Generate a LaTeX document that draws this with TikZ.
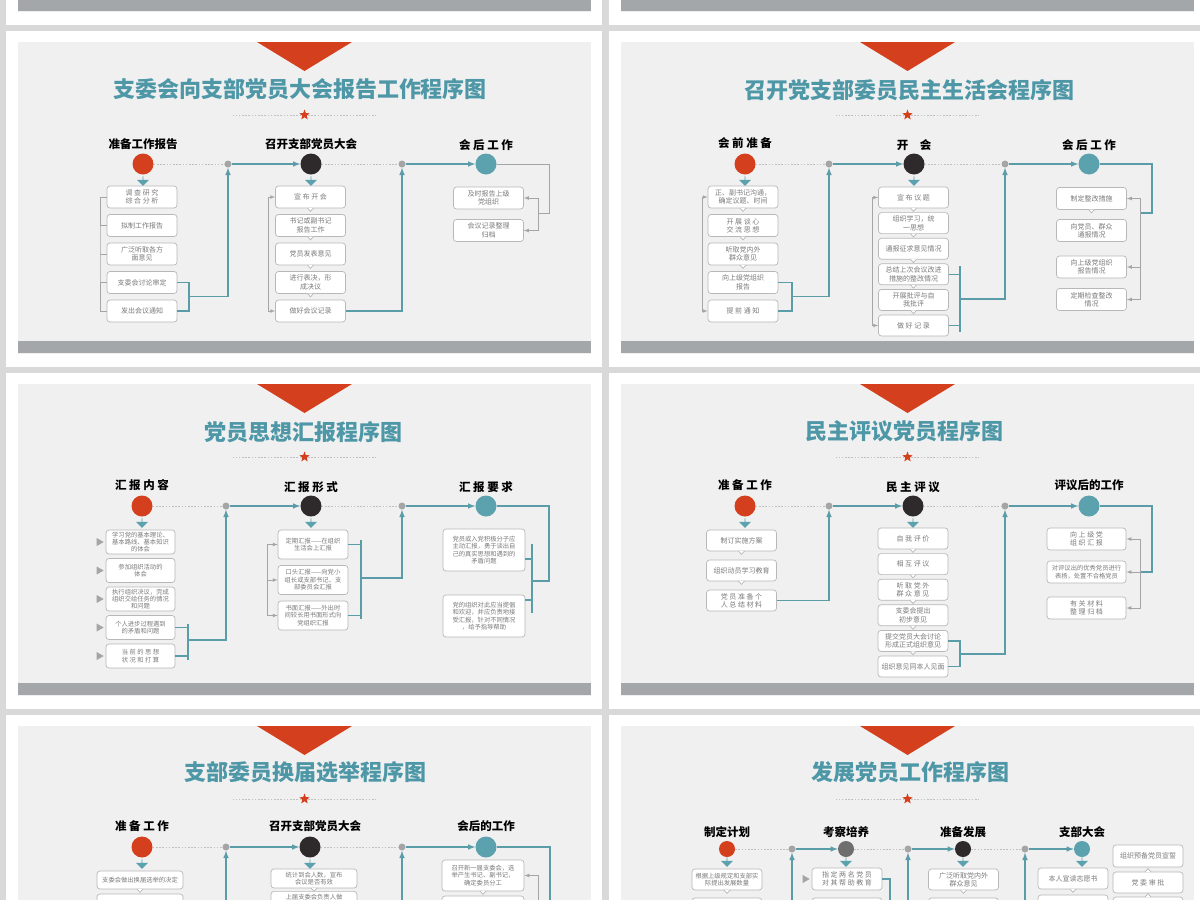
\documentclass[tikz,border=0pt]{standalone}
\usepackage{fontspec}
\setmainfont{Noto Sans CJK SC}
\usetikzlibrary{shapes.geometric,shapes.arrows,positioning}

\definecolor{pagegray}{HTML}{D9D9D9}
\definecolor{slidebg}{HTML}{F0F0F0}
\definecolor{barcol}{HTML}{A3A7AA}
\definecolor{partyred}{HTML}{D4401D}
\definecolor{darkdot}{HTML}{2E292A}
\definecolor{midgray}{HTML}{6E6E6E}
\definecolor{tealdot}{HTML}{5CA1AE}
\definecolor{tealline}{HTML}{5B9CA9}
\definecolor{titleteal}{HTML}{4D97A7}
\definecolor{jointgray}{HTML}{A5A5A5}
\definecolor{boxline}{HTML}{B8B8B8}
\definecolor{boxtext}{HTML}{7A7A7A}

\newcommand\titlefont{\fontsize{22}{24}\selectfont\bfseries}
\newcommand\headfont{\fontsize{11.5}{13}\selectfont\bfseries}
\newcommand\boxfont{\fontsize{7}{8.3}\selectfont}
\newcommand\smallboxfont{\fontsize{6.3}{7.4}\selectfont}
\newcommand\notchdown[1]{\filldraw[draw=boxline, fill=white, line width=0.7pt] ([xshift=-3pt,yshift=0.35pt]#1.south) -- ([yshift=-3pt]#1.south) -- ([xshift=3pt,yshift=0.35pt]#1.south);}
\newcommand\notchup[1]{\filldraw[draw=boxline, fill=white, line width=0.7pt] ([xshift=-3pt,yshift=-0.35pt]#1.north) -- ([yshift=3pt]#1.north) -- ([xshift=3pt,yshift=-0.35pt]#1.north);}

\begin{document}
\begin{tikzpicture}[x=1pt, y=-1pt,
        box/.style={rectangle, rounded corners=3pt, draw=boxline, fill=white, line width=0.7pt, minimum width=70pt, minimum height=22pt, inner sep=1pt, align=center, font=\boxfont, text=boxtext},
        small/.style={font=\smallboxfont},
        head/.style={font=\headfont, text=black},
        title/.style={font=\titlefont, text=titleteal},
        stage/.style={circle, minimum size=21pt, inner sep=0pt},
        joint/.style={circle, fill=jointgray, minimum size=7pt, inner sep=0pt},
        drop/.style={single arrow, shape border rotate=270, fill=tealdot, minimum height=9.5pt, minimum width=12pt, single arrow head extend=2.5pt, inner sep=0pt},
        play/.style={isosceles triangle, isosceles triangle stretches, fill=jointgray, minimum height=7pt, minimum width=8pt, inner sep=0pt},
        redstar/.style={star, star points=5, star point ratio=2.4, fill=partyred, minimum size=11pt, inner sep=0pt},
        arrow/.style={->, >=latex, draw=tealline, line width=1.5pt},
        link/.style={draw=tealline, line width=1.5pt},
        gline/.style={draw=jointgray, line width=0.7pt},
        garrow/.style={->, >=latex, draw=jointgray, line width=0.7pt},
        dots/.style={draw=jointgray!70, line width=0.8pt, dash pattern=on 1.6pt off 1.6pt}
    ]
    \useasboundingbox (0,0) rectangle (1200,900);
    \clip (0,0) rectangle (1200,900);
    \fill[pagegray] (0,0) rectangle (1200,900);

    % slide frames
    \foreach \fx/\fy/\n in {6/-311/0, 609/-311/1, 6/31/2, 609/31/3, 6/373/4, 609/373/5, 6/715/6, 609/715/7} {
        \fill[white] (\fx,\fy) rectangle +(596,336);
        \fill[slidebg] (\fx+12,\fy+11) rectangle +(573,312);
        \fill[barcol] (\fx+12,\fy+310) rectangle +(573,12);
        \fill[partyred] (\fx+251,\fy+11) -- (\fx+346,\fy+11) -- (\fx+298.5,\fy+40) -- cycle;
        \node[redstar] (star\n) at (\fx+298.5,\fy+84) {};
        \draw[dots] (star\n.west) -- ++(-68,0);
        \draw[dots] (star\n.east) -- ++(68,0);
    }

    % slide A
    \node[title] (titleA) at (300,89) {支委会向支部党员大会报告工作程序图};
    \node[stage, fill=partyred] (ac1) at (143,164) {};
    \node[stage, fill=darkdot] (ac2) at (311,164) {};
    \node[stage, fill=tealdot] (ac3) at (486,164) {};
    \node[joint] (ad1) at (228,164) {};
    \node[joint] (ad2) at (402,164) {};
    \node[head, above of=ac1, node distance=20pt] (ah1) {准备工作报告};
    \node[head, above of=ac2, node distance=20pt] (ah2) {召开支部党员大会};
    \node[head, above of=ac3, node distance=19pt] (ah3) {会 后 工 作};
    \node[drop, below of=ac1, node distance=17pt] (ap1) {};
    \node[drop, below of=ac2, node distance=17pt] (ap2) {};

    \node[box] (a11) at (142,197) {调 查 研 究\\综 合 分 析};
    \node[box, below of=a11, node distance=28.5pt] (a12) {拟制工作报告};
    \node[box, below of=a12, node distance=28.5pt] (a13) {广泛听取各方\\面意见};
    \node[box, below of=a13, node distance=28.5pt] (a14) {支委会讨论审定};
    \node[box, below of=a14, node distance=28.5pt] (a15) {发出会议通知};

    \node[box] (a21) at (310.5,197) {宣 布 开 会};
    \node[box, below of=a21, node distance=28.5pt] (a22) {书记或副书记\\报告工作};
    \node[box, below of=a22, node distance=28.5pt] (a23) {党员发表意见};
    \node[box, below of=a23, node distance=28.5pt] (a24) {进行表决，形\\成决议};
    \node[box, below of=a24, node distance=28.5pt] (a25) {做好会议记录};

    \node[box] (a31) at (488.5,198) {及时报告上级\\党组织};
    \node[box, below of=a31, node distance=32.5pt] (a32) {会议记录整理\\归档};

    \draw[dots] (ac1) -- (ad1);
    \draw[arrow] (ad1) -- (ac2);
    \draw[dots] (ac2) -- (ad2);
    \draw[arrow] (ad2) -- (ac3);
    \coordinate (aj1) at (189,296.5);
    \draw[link] (a14.east) -| (aj1) |- (a15.east);
    \draw[arrow] (aj1) -| (ad1);
    \draw[arrow] (a25.east) -| (ad2);
    \coordinate (ak3) at (549,213);
    \coordinate (aj3) at (538,213);
    \draw[gline] (ac3) -| (ak3) -- (aj3);
    \draw[garrow] (aj3) |- (a31);
    \draw[garrow] (aj3) |- (a32);
    \coordinate (al1) at (100,254);
    \draw[gline] (a11.west) -| (al1) |- (a15.west);
    \foreach \i in {2,3,4} \draw[gline] (a1\i.west) -- ++(-7,0);
    \coordinate (al2) at (268,254);
    \draw[garrow] (al2) |- (a21);
    \draw[garrow] (al2) |- (a25);
    \foreach \i in {1,...,4} {\notchdown{a2\i}}

    % slide B
    \node[title] (titleB) at (909,90) {召开党支部委员民主生活会程序图};
    \node[stage, fill=partyred] (bc1) at (745,164) {};
    \node[stage, fill=darkdot] (bc2) at (914,164) {};
    \node[stage, fill=tealdot] (bc3) at (1089,164) {};
    \node[joint] (bd1) at (829,164) {};
    \node[joint] (bd2) at (1005,164) {};
    \node[head, above of=bc1, node distance=21pt] (bh1) {会 前 准 备};
    \node[head, above of=bc2, node distance=19pt] (bh2) {开\quad 会};
    \node[head, above of=bc3, node distance=19pt] (bh3) {会 后 工 作};
    \node[drop, below of=bc1, node distance=17pt] (bp1) {};
    \node[drop, below of=bc2, node distance=17pt] (bp2) {};

    \node[box] (b11) at (743,197) {正、副书记沟通，\\确定议题、时间};
    \node[box, below of=b11, node distance=28.5pt] (b12) {开 展 谈 心\\交 流 思 想};
    \node[box, below of=b12, node distance=28.5pt] (b13) {听取党内外\\群众意见};
    \node[box, below of=b13, node distance=28.5pt] (b14) {向上级党组织\\报告};
    \node[box, below of=b14, node distance=28.5pt] (b15) {提 前 通 知};

    \node[box, minimum height=21pt] (b21) at (913.5,197.5) {宣 布 议 题};
    \node[box, minimum height=21pt, below of=b21, node distance=25.6pt] (b22) {组织学习，统\\一思想};
    \node[box, minimum height=21pt, below of=b22, node distance=25.6pt] (b23) {通报征求意见情况};
    \node[box, minimum height=21pt, below of=b23, node distance=25.6pt] (b24) {总结上次会议改进\\措施的整改情况};
    \node[box, minimum height=21pt, below of=b24, node distance=25.6pt] (b25) {开展批评与自\\我批评};
    \node[box, minimum height=21pt, below of=b25, node distance=25.6pt] (b26) {做 好 记 录};

    \node[box] (b31) at (1091.5,198.5) {制定整改措施};
    \node[box] (b32) at (1091.5,230.5) {向党员、群众\\通报情况};
    \node[box] (b33) at (1091.5,267) {向上级党组织\\报告情况};
    \node[box] (b34) at (1091.5,299.5) {定期检查整改\\情况};

    \draw[dots] (bc1) -- (bd1);
    \draw[arrow] (bd1) -- (bc2);
    \draw[dots] (bc2) -- (bd2);
    \draw[arrow] (bd2) -- (bc3);
    \coordinate (bj1) at (792,296.5);
    \draw[link] (b14.east) -| (bj1) |- (b15.east);
    \draw[arrow] (bj1) -| (bd1);
    \coordinate (bt2) at (960,266);
    \coordinate (bb2) at (960,332);
    \coordinate (bj2) at (960,299);
    \draw[link] (bt2) -- (bb2);
    \draw[link] (b24.east) -- (b24.east -| bj2);
    \draw[link] (b26.east) -- (b26.east -| bj2);
    \draw[arrow] (bj2) -| (bd2);
    \coordinate (bl1) at (702,254);
    \draw[garrow] (bl1) |- (b11);
    \draw[garrow] (bl1) |- (b15);
    \coordinate (bl2) at (872,261);
    \draw[garrow] (bl2) |- (b21);
    \draw[garrow] (bl2) |- (b26);
    \coordinate (bk3) at (1152,213);
    \coordinate (bj3) at (1140,213);
    \draw[link] (bc3) -| (bk3) -- (bj3);
    \draw[garrow] (bj3) |- (b31);
    \draw[garrow] (bj3) |- (b33);
    \draw[garrow] (bj3) |- (b34);
    \foreach \i in {1,2,3} {\notchdown{b1\i}}
    \foreach \i in {1,...,5} {\notchdown{b2\i}}
    \notchdown{b31}

    % slide C
    \node[title] (titleC) at (303,432) {党员思想汇报程序图};
    \node[stage, fill=partyred] (cc1) at (142,506) {};
    \node[stage, fill=darkdot] (cc2) at (311,506) {};
    \node[stage, fill=tealdot] (cc3) at (486,506) {};
    \node[joint] (cd1) at (226,506) {};
    \node[joint] (cd2) at (402,506) {};
    \node[head, above of=cc1, node distance=21pt] (ch1) {汇 报 内 容};
    \node[head, above of=cc2, node distance=19pt] (ch2) {汇 报 形 式};
    \node[head, above of=cc3, node distance=19pt] (ch3) {汇 报 要 求};
    \node[drop, below of=cc1, node distance=17pt] (cp1) {};
    \node[drop, below of=cc2, node distance=17pt] (cp2) {};

    \node[box, small, minimum width=69pt, minimum height=24pt] (c11) at (140.5,542) {学习党的基本理论、\\基本路线、基本知识\\的体会};
    \node[box, small, minimum width=69pt, minimum height=24pt, below of=c11, node distance=28.5pt] (c12) {参加组织活动的\\体会};
    \node[box, small, minimum width=69pt, minimum height=24pt, below of=c12, node distance=28.5pt] (c13) {执行组织决议，完成\\组织交给任务的情况\\和问题};
    \node[box, small, minimum width=69pt, minimum height=24pt, below of=c13, node distance=28.5pt] (c14) {个人进步过程遇到\\的矛盾和问题};
    \node[box, small, minimum width=69pt, minimum height=24pt, below of=c14, node distance=28.5pt] (c15) {当 前 的 思 想\\状 况 和 打 算};
    \foreach \i in {1,...,5} {\node[play, left of=c1\i, node distance=41.5pt] (cq\i) {};}

    \node[box, small, minimum height=29pt] (c21) at (313,544.5) {定期汇报——在组织\\生活会上汇报};
    \node[box, small, minimum height=29pt, below of=c21, node distance=35.5pt] (c22) {口头汇报——向党小\\组长或支部书记、支\\部委员会汇报};
    \node[box, small, minimum height=29pt, below of=c22, node distance=35.5pt] (c23) {书面汇报——外出时\\间较长用书面形式向\\党组织汇报};

    \node[box, small, minimum width=82pt, minimum height=42pt] (c31) at (484,550) {党员或入党积极分子应\\主动汇报，勇于谈出自\\己的真实思想和遇到的\\矛盾问题};
    \node[box, small, minimum width=82pt, minimum height=42pt, below of=c31, node distance=66pt] (c32) {党的组织对此应当提倡\\和欢迎，并应负责地接\\受汇报，针对不同情况\\，给予指导帮助};

    \draw[dots] (cc1) -- (cd1);
    \draw[arrow] (cd1) -- (cc2);
    \draw[dots] (cc2) -- (cd2);
    \draw[arrow] (cd2) -- (cc3);
    \coordinate (ct1) at (188,624);
    \coordinate (cb1) at (188,660);
    \coordinate (cj1) at (188,640);
    \draw[link] (ct1) -- (cb1);
    \draw[link] (c14.east) -- (c14.east -| cj1);
    \draw[link] (c15.east) -- (c15.east -| cj1);
    \draw[arrow] (cj1) -| (cd1);
    \coordinate (ct2) at (361,540);
    \coordinate (cb2) at (361,619);
    \coordinate (cj2) at (361,578);
    \draw[link] (ct2) -- (cb2);
    \draw[link] (c21.east) -- (c21.east -| cj2);
    \draw[link] (c23.east) -- (c23.east -| cj2);
    \draw[arrow] (cj2) -| (cd2);
    \coordinate (cl2) at (267,580);
    \draw[garrow] (cl2) |- (c21);
    \draw[garrow] (cl2) |- (c22);
    \draw[garrow] (cl2) |- (c23);
    \coordinate (ck3) at (549,581);
    \coordinate (cj3) at (532,581);
    \coordinate (ct3) at (532,544);
    \coordinate (cb3) at (532,613);
    \coordinate (cs1) at (532,559);
    \coordinate (cs2) at (532,600);
    \draw[link] (cc3) -| (ck3) -- (cj3);
    \draw[link] (ct3) -- (cb3);
    \draw[link] (cs1) -- (cs1 -| c31.east);
    \draw[link] (cs2) -- (cs2 -| c32.east);

    % slide D
    \node[title] (titleD) at (904,431) {民主评议党员程序图};
    \node[stage, fill=partyred] (dc1) at (745,506) {};
    \node[stage, fill=darkdot] (dc2) at (913,506) {};
    \node[stage, fill=tealdot] (dc3) at (1089,506) {};
    \node[joint] (dd1) at (829,506) {};
    \node[joint] (dd2) at (1005,506) {};
    \node[head, above of=dc1, node distance=21pt] (dh1) {准 备 工 作};
    \node[head, above of=dc2, node distance=19pt] (dh2) {民 主 评 议};
    \node[head, above of=dc3, node distance=21pt] (dh3) {评议后的工作};
    \node[drop, below of=dc1, node distance=17pt] (dp1) {};
    \node[drop, below of=dc2, node distance=17pt] (dp2) {};

    \node[box, minimum height=21pt] (d11) at (741.5,540.5) {制订实施方案};
    \node[box, minimum height=21pt, below of=d11, node distance=30pt] (d12) {组织动员学习教育};
    \node[box, minimum height=21pt, below of=d12, node distance=30pt] (d13) {党 员 准 备 个\\人 总 结 材 料};

    \node[box, minimum height=21pt] (d21) at (913,538.5) {自 我 评 价};
    \node[box, minimum height=21pt, below of=d21, node distance=25.6pt] (d22) {相 互 评 议};
    \node[box, minimum height=21pt, below of=d22, node distance=25.6pt] (d23) {听 取 党 外\\群 众 意 见};
    \node[box, minimum height=21pt, below of=d23, node distance=25.6pt] (d24) {支委会提出\\初步意见};
    \node[box, minimum height=21pt, below of=d24, node distance=25.6pt] (d25) {提交党员大会讨论\\形成正式组织意见};
    \node[box, minimum height=21pt, below of=d25, node distance=25.6pt] (d26) {组织意见同本人见面};

    \node[box, minimum width=79pt] (d31) at (1086.5,539) {向 上 级 党\\组 织 汇 报};
    \node[box, small, minimum width=79pt] (d32) at (1086.5,572) {对评议出的优秀党员进行\\表扬，处置不合格党员};
    \node[box, minimum width=79pt] (d33) at (1086.5,608) {有 关 材 料\\整 理 归 档};

    \draw[dots] (dc1) -- (dd1);
    \draw[arrow] (dd1) -- (dc2);
    \draw[dots] (dc2) -- (dd2);
    \draw[arrow] (dd2) -- (dc3);
    \draw[arrow] (d13.east) -| (dd1);
    \coordinate (dj2) at (960,654);
    \draw[link] (d25.east) -| (dj2) |- (d26.east);
    \draw[arrow] (dj2) -| (dd2);
    \coordinate (dk3) at (1152,572);
    \coordinate (dj3) at (1140,572);
    \draw[link] (dc3) -| (dk3) -- (dj3);
    \draw[garrow] (dj3) |- (d31);
    \draw[garrow] (dj3) |- (d32);
    \draw[garrow] (dj3) |- (d33);
    \foreach \i in {1,2} {\notchdown{d1\i}}
    \foreach \i in {1,...,5} {\notchdown{d2\i}}

    % slide E
    \node[title] (titleE) at (305,772) {支部委员换届选举程序图};
    \node[stage, fill=partyred] (ec1) at (142,847) {};
    \node[stage, fill=darkdot] (ec2) at (310,847) {};
    \node[stage, fill=tealdot] (ec3) at (486,847) {};
    \node[joint] (ed1) at (226,847) {};
    \node[joint] (ed2) at (402,847) {};
    \node[head, above of=ec1, node distance=21pt] (eh1) {准 备 工 作};
    \node[head, above of=ec2, node distance=21pt, xshift=5pt] (eh2) {召开支部党员大会};
    \node[head, above of=ec3, node distance=21pt] (eh3) {会后的工作};
    \node[drop, below of=ec1, node distance=17pt] (ep1) {};
    \node[drop, below of=ec2, node distance=17pt] (ep2) {};

    \node[box, small, minimum width=86pt, minimum height=18pt] (e11) at (140,880) {支委会做出换届选举的决定};
    \node[box, minimum width=86pt] (e12) at (140,905) {};
    \node[box, small, minimum width=86pt, minimum height=19pt] (e21) at (314,878.5) {统计到会人数，宣布\\会议是否有效};
    \node[box, small, minimum width=86pt, minimum height=0pt, anchor=north, inner ysep=2.5pt, text depth=14pt] (e22) at (314,891) {上届支委会负责人做};
    \node[box, small, minimum width=82pt, minimum height=31pt] (e31) at (483,875.5) {召开新一届支委会，选\\举产生书记、副书记，\\确定委员分工};
    \node[box, minimum width=82pt] (e32) at (483,907) {};

    \draw[dots] (ec1) -- (ed1);
    \draw[arrow] (ed1) -- (ec2);
    \draw[dots] (ec2) -- (ed2);
    \draw[arrow] (ed2) -- (ec3);
    \coordinate (eb1) at (226,910);
    \coordinate (eb2) at (402,910);
    \coordinate (ek3) at (550,910);
    \coordinate (el3) at (538,910);
    \draw[arrow] (eb1) -- (ed1);
    \draw[arrow] (eb2) -- (ed2);
    \draw[link] (ec3) -| (ek3);
    \draw[garrow] (el3) |- (e31);
    \notchdown{e11}
    \notchdown{e21}
    \notchdown{e31}

    % slide F
    \node[title] (titleF) at (910,772) {发展党员工作程序图};
    \node[stage, minimum size=16pt, fill=partyred] (fc1) at (727,849) {};
    \node[stage, minimum size=16pt, fill=midgray] (fc2) at (846,849) {};
    \node[stage, minimum size=16pt, fill=darkdot] (fc3) at (963,849) {};
    \node[stage, minimum size=16pt, fill=tealdot] (fc4) at (1082,849) {};
    \node[joint] (fd1) at (792,849) {};
    \node[joint] (fd2) at (908,849) {};
    \node[joint] (fd3) at (1025,849) {};
    \node[head, above of=fc1, node distance=17pt] (fh1) {制定计划};
    \node[head, above of=fc2, node distance=17pt] (fh2) {考察培养};
    \node[head, above of=fc3, node distance=17pt] (fh3) {准备发展};
    \node[head, above of=fc4, node distance=17pt] (fh4) {支部大会};
    \node[drop, below of=fc1, node distance=13pt] (fp1) {};
    \node[drop, below of=fc2, node distance=13pt] (fp2) {};
    \node[drop, below of=fc3, node distance=13pt] (fp3) {};
    \node[drop, below of=fc4, node distance=13pt] (fp4) {};

    \node[box, small, minimum height=21pt] (f11) at (727,879.5) {根据上级规定和支部实\\际提出发展数量};
    \node[box] (f12) at (727,909) {};
    \node[box] (f21) at (847,879) {指 定 两 名 党 员\\对 其 帮 助 教 育};
    \node[play, left of=f21, node distance=42pt] (fq2) {};
    \node[box] (f22) at (847,909) {};
    \node[box, minimum height=21pt] (f31) at (963.5,879.5) {广泛听取党内外\\群众意见};
    \node[box] (f32) at (963.5,909) {};
    \node[box, minimum height=21pt] (f41) at (1073,878.5) {本人宣读志愿书};
    \node[box] (f42) at (1073,906) {};
    \node[box] (f51) at (1148,856) {组织预备党员宣誓};
    \node[box, minimum height=21pt] (f52) at (1148,882.5) {党 委 审 批};
    \node[box] (f53) at (1148,908) {};

    \draw[dots] (fc1) -- (fd1);
    \draw[arrow] (fd1) -- (fc2);
    \draw[dots] (fc2) -- (fd2);
    \draw[arrow] (fd2) -- (fc3);
    \draw[dots] (fc3) -- (fd3);
    \draw[arrow] (fd3) -- (fc4);
    \coordinate (fb1) at (792,910);
    \coordinate (fb2) at (908,910);
    \coordinate (fb3) at (1025,910);
    \coordinate (fk2) at (890,910);
    \draw[arrow] (fb1) -- (fd1);
    \draw[arrow] (fb2) -- (fd2);
    \draw[arrow] (fb3) -- (fd3);
    \draw[link] (f21.east) -| (fk2);
    \notchdown{f11}
    \notchdown{f31}
    \notchdown{f41}
    \notchup{f52}
    \notchup{f53}
\end{tikzpicture}
\end{document}
